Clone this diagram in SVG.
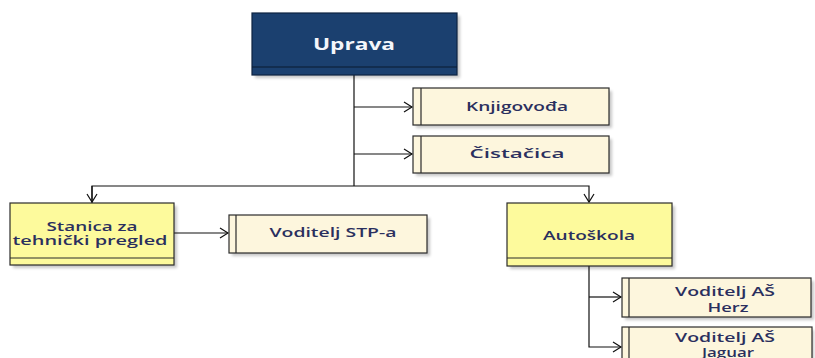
<svg xmlns="http://www.w3.org/2000/svg" width="815" height="358" viewBox="0 0 815 358">
<style>
.shadow{fill:#000;opacity:0.22}
.dept{fill:#fdfa9c;stroke:#2b2b2b;stroke-width:1.2}
.staff{fill:#fdf6dd;stroke:#2b2b2b;stroke-width:1.2}
.bar{fill:none;stroke:#2b2b2b;stroke-width:1.2}
.t{font-family:"Open Sans","Liberation Sans",sans-serif;font-size:12.5px;font-weight:600;fill:#2a2f5e;text-anchor:middle}
.top{font-family:"Open Sans","Liberation Sans",sans-serif;font-size:16px;font-weight:700;fill:#f4f6fb;text-anchor:middle}
.c{fill:none;stroke:#111;stroke-width:1.2}
</style>
<defs>
<marker id="arr" markerWidth="12" markerHeight="12" refX="9" refY="6" orient="auto" markerUnits="userSpaceOnUse">
<path d="M1,1 L9,6 L1,11" fill="none" stroke="#111" stroke-width="1.2"/>
</marker>
<filter id="blur" x="-10%" y="-10%" width="120%" height="130%"><feGaussianBlur stdDeviation="1.5"/></filter>
</defs>
<rect width="815" height="358" fill="#ffffff"/>

<g id="connectors">
<path class="c" d="M354,75 V186"/>
<path class="c" d="M354,107 H412" marker-end="url(#arr)"/>
<path class="c" d="M354,154 H412" marker-end="url(#arr)"/>
<path class="c" d="M92,203 V186 H589 V202" marker-end="url(#arr)"/>
<path class="c" d="M92,186 V202" marker-end="url(#arr)"/>
<path class="c" d="M174,233 H228" marker-end="url(#arr)"/>
<path class="c" d="M589,266 V347 H621" marker-end="url(#arr)"/>
<path class="c" d="M589,297 H621" marker-end="url(#arr)"/>
</g>

<g id="uprava">
<rect x="255" y="16" width="205" height="62" class="shadow" filter="url(#blur)"/>
<rect x="252" y="13" width="205" height="62" fill="#1b406f" stroke="#0e2442" stroke-width="1.2"/>
<line x1="252" y1="67" x2="457" y2="67" stroke="#0a1a30" stroke-width="1.2"/>
<text class="top" x="354" y="50" textLength="82" lengthAdjust="spacingAndGlyphs">Uprava</text>
</g>

<g id="knjigovodja">
<rect x="416" y="91" width="196" height="37" class="shadow" filter="url(#blur)"/>
<rect x="413" y="88" width="196" height="37" class="staff"/>
<line x1="421" y1="88" x2="421" y2="125" class="bar"/>
<text class="t" x="517" y="111" textLength="102" lengthAdjust="spacingAndGlyphs">Knjigovođa</text>
</g>

<g id="cistacica">
<rect x="416" y="139" width="196" height="37" class="shadow" filter="url(#blur)"/>
<rect x="413" y="136" width="196" height="37" class="staff"/>
<line x1="421" y1="136" x2="421" y2="173" class="bar"/>
<text class="t" x="517" y="158" textLength="95" lengthAdjust="spacingAndGlyphs">Čistačica</text>
</g>

<g id="stanica">
<rect x="13" y="206" width="164" height="62" class="shadow" filter="url(#blur)"/>
<rect x="10" y="203" width="164" height="62" class="dept"/>
<line x1="10" y1="258" x2="174" y2="258" class="bar"/>
<text class="t" x="92" y="231" textLength="91" lengthAdjust="spacingAndGlyphs">Stanica za</text>
<text class="t" x="90" y="245" textLength="155" lengthAdjust="spacingAndGlyphs">tehnički pregled</text>
</g>

<g id="voditelj-stp">
<rect x="232" y="218" width="198" height="38" class="shadow" filter="url(#blur)"/>
<rect x="229" y="215" width="198" height="38" class="staff"/>
<line x1="236" y1="215" x2="236" y2="253" class="bar"/>
<text class="t" x="333" y="237" textLength="127" lengthAdjust="spacingAndGlyphs">Voditelj STP-a</text>
</g>

<g id="autoskola">
<rect x="510" y="206" width="165" height="63" class="shadow" filter="url(#blur)"/>
<rect x="507" y="203" width="165" height="63" class="dept"/>
<line x1="507" y1="258" x2="672" y2="258" class="bar"/>
<text class="t" x="589" y="240" textLength="92" lengthAdjust="spacingAndGlyphs">Autoškola</text>
</g>

<g id="voditelj-as-herz">
<rect x="625" y="281" width="189" height="39" class="shadow" filter="url(#blur)"/>
<rect x="622" y="278" width="189" height="39" class="staff"/>
<line x1="629" y1="278" x2="629" y2="317" class="bar"/>
<text class="t" x="725" y="296" textLength="100" lengthAdjust="spacingAndGlyphs">Voditelj AŠ</text>
<text class="t" x="728" y="312" textLength="41" lengthAdjust="spacingAndGlyphs">Herz</text>
</g>

<g id="voditelj-as-jaguar">
<rect x="625" y="330" width="189" height="40" class="shadow" filter="url(#blur)"/>
<rect x="622" y="327" width="190" height="40" class="staff"/>
<line x1="629" y1="327" x2="629" y2="367" class="bar"/>
<text class="t" x="725" y="342" textLength="100" lengthAdjust="spacingAndGlyphs">Voditelj AŠ</text>
<text class="t" x="728" y="357" textLength="52" lengthAdjust="spacingAndGlyphs">Jaguar</text>
</g>
</svg>
